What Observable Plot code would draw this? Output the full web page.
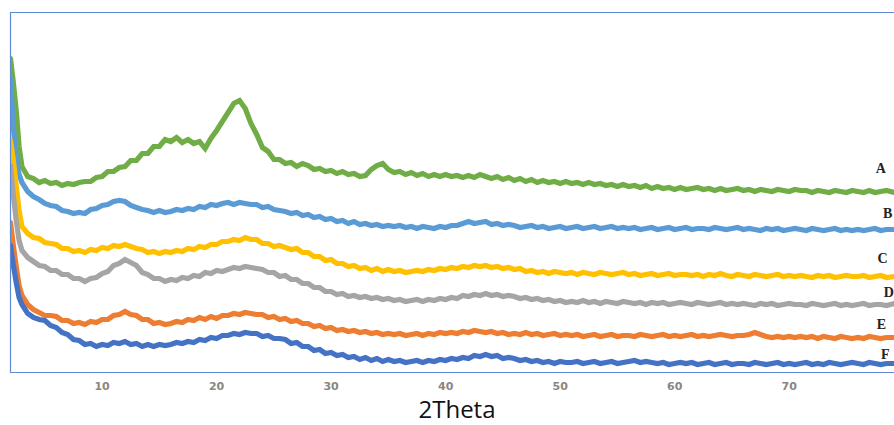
<!DOCTYPE html>
<html>
<head>
<meta charset="utf-8">
<script src="https://cdn.jsdelivr.net/npm/d3@7"></script>
<script src="https://cdn.jsdelivr.net/npm/@observablehq/plot@0.6"></script>
<style>
  html, body { margin: 0; padding: 0; background: #fff; overflow: hidden; }
  #chart { width: 894px; height: 397px; }
  #chart svg { display: block; }
  #xlabel {
    width: 894px; height: 24px; box-sizing: border-box; padding-left: 20px;
    text-align: center; font-family: "Open Sans", "Noto Sans", sans-serif;
    font-size: 24px; line-height: 24px; color: #111;
  }
</style>
</head>
<body>
<div id="chart"></div>
<div id="xlabel">2Theta</div>
<script>
// Diffraction angle (2θ, degrees) shared by every pattern
const twoTheta = [
  2, 2.25, 2.5, 2.75, 3, 3.5, 4, 4.5, 5, 5.5,
  6, 6.5, 7, 7.5, 8, 8.5, 9, 9.5, 10, 10.5,
  11, 11.5, 12, 12.5, 13, 13.5, 14, 14.5, 15, 15.5,
  16, 16.5, 17, 17.5, 18, 18.5, 19, 19.5, 20, 20.5,
  21, 21.5, 22, 22.5, 23, 23.5, 24, 24.5, 25, 25.5,
  26, 26.5, 27, 27.5, 28, 28.5, 29, 29.5, 30, 30.5,
  31, 31.5, 32, 32.5, 33, 33.5, 34, 34.5, 35, 35.5,
  36, 36.5, 37, 37.5, 38, 38.5, 39, 39.5, 40, 40.5,
  41, 41.5, 42, 42.5, 43, 43.5, 44, 44.5, 45, 45.5,
  46, 46.5, 47, 47.5, 48, 48.5, 49, 49.5, 50, 50.5,
  51, 51.5, 52, 52.5, 53, 53.5, 54, 54.5, 55, 55.5,
  56, 56.5, 57, 57.5, 58, 58.5, 59, 59.5, 60, 60.5,
  61, 61.5, 62, 62.5, 63, 63.5, 64, 64.5, 65, 65.5,
  66, 66.5, 67, 67.5, 68, 68.5, 69, 69.5, 70, 70.5,
  71, 71.5, 72, 72.5, 73, 73.5, 74, 74.5, 75, 75.5,
  76, 76.5, 77, 77.5, 78, 78.5, 79.2
];

// Intensities (arbitrary units, patterns stacked with offsets)
const sampleA = [
  314, 290, 262, 226, 206, 196, 194, 190, 192, 189,
  190, 187, 189, 188, 190, 191, 191, 195, 196, 201,
  201, 205, 206, 212, 212, 219, 219, 226, 226, 233,
  231, 235, 230, 233, 229, 231, 224, 234, 242, 251,
  260, 269, 272, 264, 249, 238, 225, 221, 213, 213,
  209, 210, 206, 209, 207, 203, 204, 201, 202, 199,
  201, 198, 199, 196, 197, 203, 207, 209, 203, 200,
  201, 198, 200, 197, 199, 196, 198, 196, 198, 196,
  197, 195, 197, 195, 198, 196, 194, 196, 193, 195,
  192, 194, 191, 193, 190, 192, 190, 191, 189, 191,
  189, 190, 188, 190, 188, 189, 187, 188, 186, 188,
  186, 187, 185, 187, 184, 186, 184, 185, 183, 185,
  183, 184, 185, 183, 184, 182, 184, 182, 183, 184,
  182, 183, 181, 183, 182, 181, 183, 182, 181, 183,
  182, 182, 180, 182, 181, 180, 182, 181, 180, 182,
  181, 180, 182, 180, 181, 182, 180
];
const sampleB = [
  294, 245, 214, 198, 190, 181, 176, 173, 169, 167,
  166, 162, 161, 159, 160, 159, 163, 164, 167, 168,
  171, 172, 171, 167, 165, 163, 162, 160, 162, 160,
  161, 163, 162, 164, 163, 166, 165, 168, 167, 169,
  170, 168, 170, 169, 168, 168, 165, 166, 163, 162,
  161, 159, 160, 157, 158, 155, 156, 153, 154, 151,
  152, 149, 151, 148, 149, 147, 148, 146, 147, 146,
  147, 145, 146, 144, 146, 145, 144, 146, 145, 147,
  147, 149, 151, 149, 150, 151, 148, 149, 147, 148,
  147, 145, 146, 147, 145, 146, 144, 145, 146, 144,
  145, 146, 144, 145, 146, 144, 145, 146, 144, 145,
  144, 145, 143, 144, 145, 143, 144, 145, 143, 144,
  145, 143, 144, 144, 143, 145, 144, 143, 144, 145,
  143, 144, 143, 142, 144, 143, 144, 142, 143, 144,
  143, 142, 144, 143, 142, 143, 144, 142, 143, 142,
  143, 142, 143, 144, 142, 143, 143
];
const sampleC = [
  232, 212, 187, 162, 146, 139, 135, 134, 130, 129,
  128, 124, 124, 121, 122, 120, 123, 122, 125, 124,
  127, 126, 128, 126, 124, 123, 120, 121, 119, 121,
  120, 122, 121, 124, 123, 126, 125, 128, 128, 131,
  131, 133, 132, 135, 133, 133, 129, 129, 126, 127,
  125, 123, 124, 120, 120, 116, 116, 112, 113, 109,
  109, 106, 107, 104, 105, 102, 104, 101, 103, 101,
  102, 100, 101, 102, 101, 103, 102, 104, 103, 105,
  104, 106, 105, 107, 106, 107, 105, 106, 104, 105,
  103, 104, 101, 102, 100, 101, 99, 101, 100, 99,
  100, 98, 100, 99, 98, 100, 99, 98, 99, 100,
  98, 99, 97, 98, 99, 97, 98, 99, 97, 98,
  98, 97, 98, 96, 98, 97, 99, 97, 96, 98,
  97, 96, 98, 97, 96, 97, 98, 96, 97, 96,
  97, 96, 95, 97, 96, 97, 95, 96, 97, 96,
  96, 97, 95, 96, 97, 95, 96
];
const sampleD = [
  207, 177, 152, 132, 122, 115, 111, 107, 106, 102,
  102, 98, 98, 94, 94, 91, 94, 95, 99, 101,
  107, 109, 113, 110, 107, 100, 98, 94, 94, 91,
  93, 92, 95, 94, 97, 96, 100, 99, 102, 101,
  103, 105, 104, 106, 105, 104, 103, 100, 100, 96,
  97, 93, 93, 89, 89, 85, 85, 81, 81, 78,
  79, 76, 77, 75, 76, 74, 75, 73, 74, 72,
  73, 71, 72, 73, 71, 73, 72, 74, 73, 75,
  74, 77, 76, 78, 77, 79, 77, 78, 76, 77,
  76, 74, 75, 73, 74, 72, 73, 71, 72, 70,
  71, 70, 72, 70, 71, 69, 71, 70, 69, 71,
  70, 69, 70, 68, 70, 69, 70, 68, 69, 70,
  69, 68, 70, 69, 68, 69, 70, 68, 69, 68,
  69, 68, 67, 69, 68, 69, 67, 68, 69, 68,
  68, 67, 69, 68, 67, 68, 69, 67, 68, 67,
  68, 69, 67, 68, 68, 67, 69
];
const sampleE = [
  150, 127, 106, 87, 77, 68, 63, 60, 57, 57,
  56, 52, 52, 49, 50, 48, 51, 50, 53, 53,
  57, 58, 61, 58, 57, 53, 53, 49, 50, 48,
  49, 51, 50, 53, 52, 55, 53, 56, 54, 57,
  57, 59, 58, 60, 59, 58, 58, 55, 56, 53,
  54, 51, 52, 49, 49, 46, 47, 44, 45, 42,
  43, 41, 42, 40, 41, 39, 40, 38, 39, 38,
  39, 37, 38, 39, 37, 39, 38, 40, 39, 40,
  39, 41, 40, 42, 41, 40, 41, 39, 40, 38,
  39, 38, 40, 38, 39, 37, 38, 39, 37, 38,
  37, 38, 36, 37, 38, 36, 37, 38, 36, 37,
  37, 36, 38, 37, 36, 37, 38, 36, 37, 36,
  37, 38, 36, 37, 36, 37, 38, 37, 36, 37,
  37, 38, 40, 38, 36, 35, 36, 35, 36, 35,
  36, 35, 36, 34, 36, 35, 34, 36, 35, 34,
  35, 34, 36, 35, 34, 35, 35
];
const sampleF = [
  127, 107, 90, 75, 68, 59, 55, 53, 52, 47,
  45, 40, 38, 33, 32, 28, 29, 26, 28, 27,
  30, 29, 31, 28, 29, 26, 28, 26, 28, 27,
  28, 30, 29, 31, 30, 33, 32, 35, 34, 37,
  37, 39, 38, 40, 39, 39, 36, 37, 34, 34,
  33, 29, 30, 26, 26, 22, 23, 19, 20, 17,
  18, 15, 16, 13, 15, 12, 14, 11, 13, 11,
  12, 10, 11, 12, 10, 12, 11, 13, 12, 14,
  13, 15, 14, 17, 16, 18, 16, 17, 14, 15,
  14, 12, 13, 11, 12, 10, 11, 9, 11, 10,
  10, 11, 9, 10, 11, 9, 10, 11, 9, 10,
  11, 12, 10, 11, 10, 9, 10, 8, 9, 10,
  9, 10, 8, 9, 10, 8, 9, 10, 8, 9,
  9, 8, 10, 9, 8, 9, 10, 8, 9, 8,
  9, 10, 8, 9, 8, 10, 9, 8, 9, 10,
  9, 8, 10, 9, 8, 9, 9
];

const sampleNames = ["A", "B", "C", "D", "E", "F"];
const sampleColors = ["#70ad47", "#5b9bd5", "#ffc000", "#a5a5a5", "#ed7d31", "#4472c4"];
const xTicks = [10, 20, 30, 40, 50, 60, 70];

// Where each sample letter sits (2θ, intensity)
const labelTheta = [78.0, 78.6, 78.15, 78.7, 78.05, 78.4];
const labelLevel = [204, 159, 114, 80, 48, 18];

const allSeries = [sampleA, sampleB, sampleC, sampleD, sampleE, sampleF];
const points = sampleNames.flatMap((name, i) =>
  twoTheta.map((t, j) => ({sample: name, theta: t, value: allSeries[i][j]}))
);
const labels = sampleNames.map((name, i) => ({sample: name, theta: labelTheta[i], value: labelLevel[i]}));

const frameBlue = "#5f8bd6";

const chart = Plot.plot({
  width: 894,
  height: 397,
  marginLeft: 10,
  marginRight: 0,
  marginTop: 12,
  marginBottom: 25,
  x: {domain: [2, 79.2], axis: null},
  y: {domain: [0, 360], axis: null},
  color: {domain: sampleNames, range: sampleColors},
  style: {background: "#fff", overflow: "visible"},
  marks: [
    Plot.line(points, {
      x: "theta", y: "value", z: "sample", stroke: "sample",
      strokeWidth: 5.2, strokeLinejoin: "miter", strokeMiterlimit: 2, clip: true
    }),
    Plot.ruleX([2], {stroke: frameBlue, strokeWidth: 1.2}),
    Plot.ruleY([0, 360], {stroke: frameBlue, strokeWidth: 1.2}),
    Plot.text(xTicks, {
      x: d => d, y: 0, dy: 13.5, text: d => String(d),
      fill: "#8a8682", fontSize: 11, fontWeight: "bold",
      fontFamily: "DejaVu Sans, sans-serif", textAnchor: "middle", lineAnchor: "middle"
    }),
    Plot.text(labels, {
      x: "theta", y: "value", text: "sample",
      fill: "#222", fontSize: 14, fontWeight: "bold",
      fontFamily: "Liberation Serif, serif", textAnchor: "middle", lineAnchor: "middle"
    })
  ]
});
document.getElementById("chart").append(chart);
</script>
</body>
</html>
